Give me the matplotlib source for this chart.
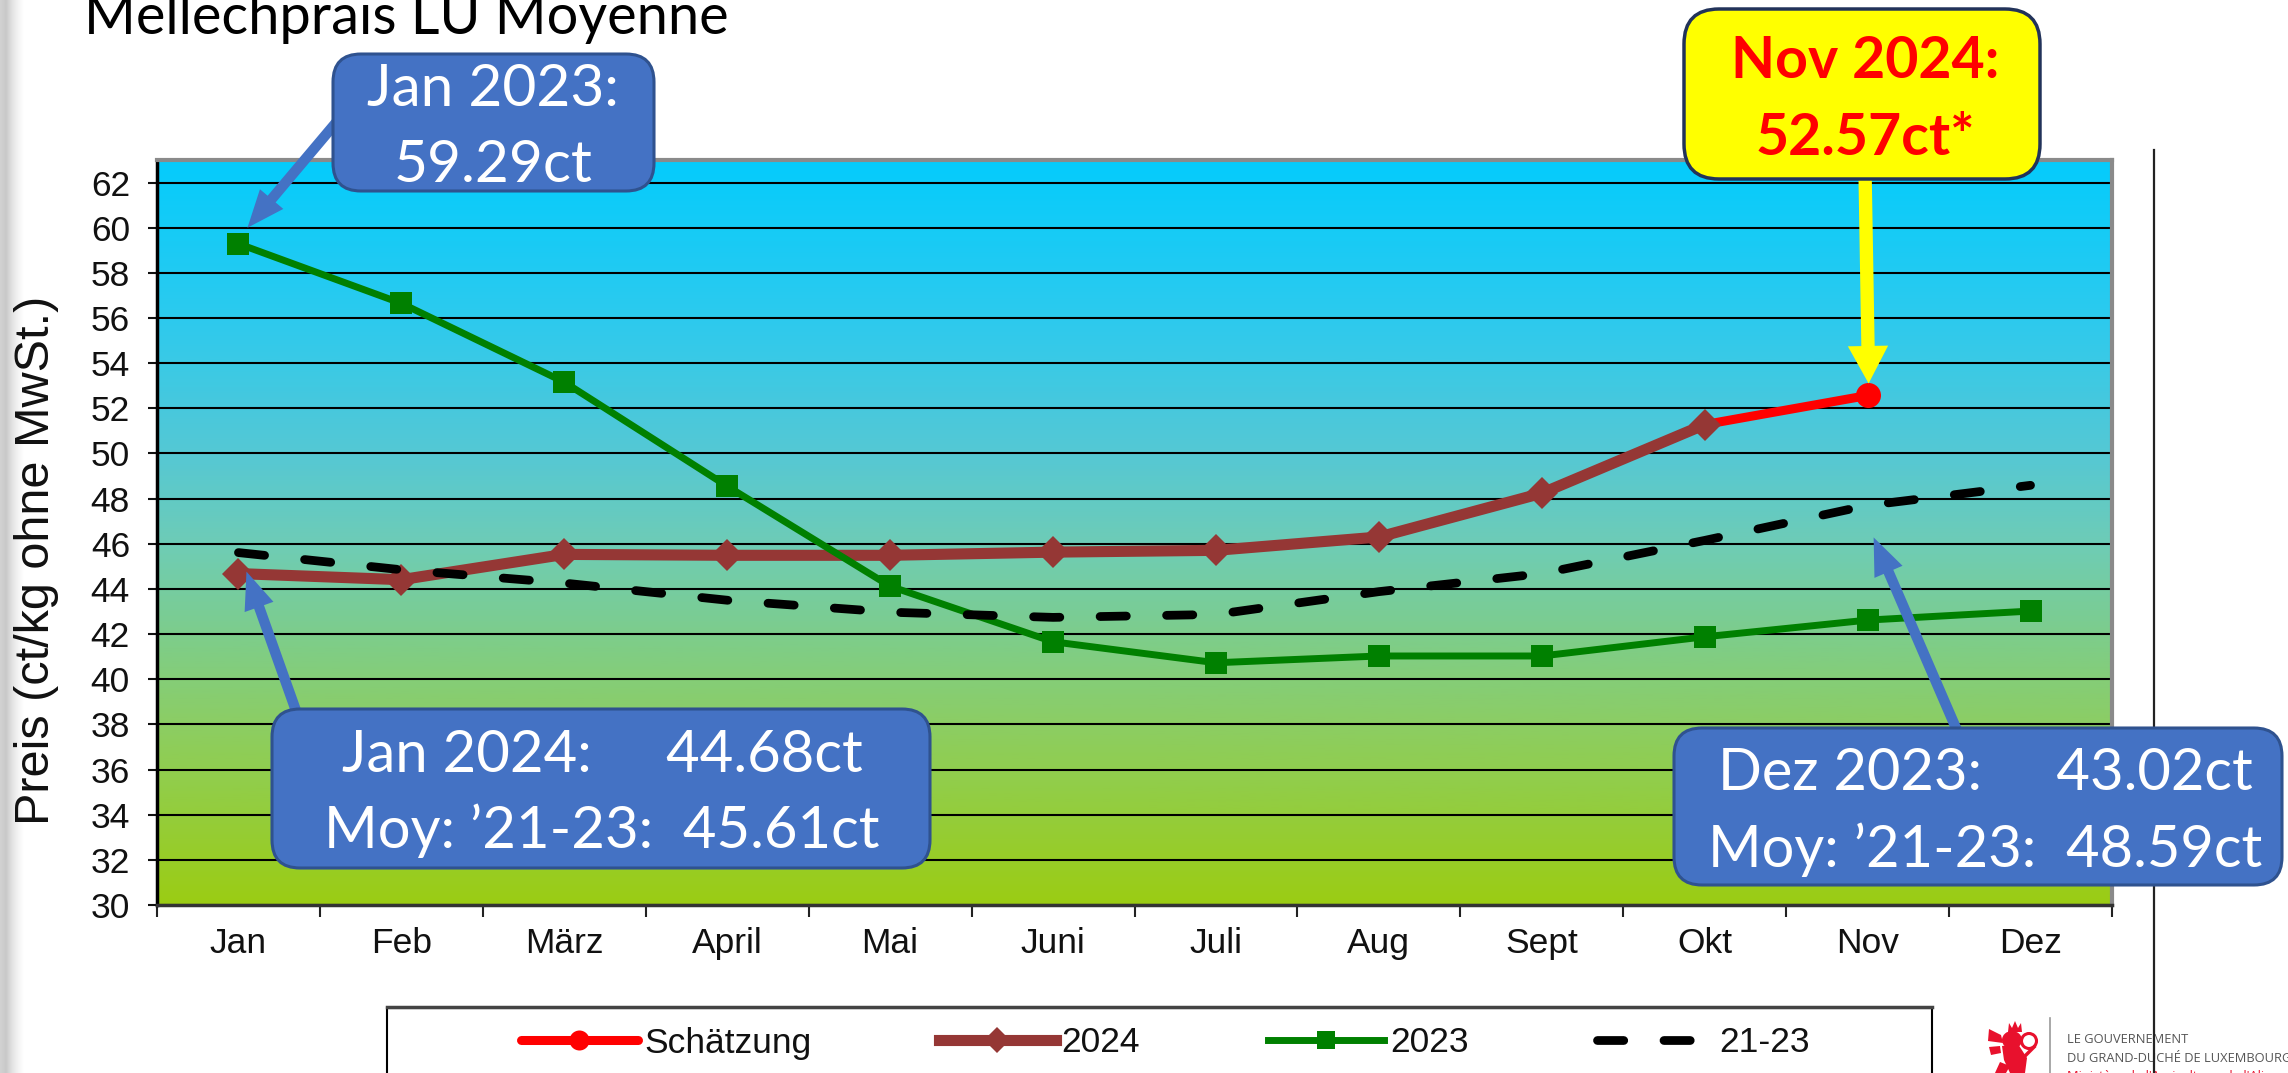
import numpy as np
import matplotlib
matplotlib.use("Agg")
import matplotlib.pyplot as plt
from matplotlib.colors import LinearSegmentedColormap
from matplotlib.patches import FancyBboxPatch, Rectangle, Polygon, Ellipse, Circle
from matplotlib.lines import Line2D
from matplotlib.transforms import ScaledTranslation

# ---------------- data ----------------
months = ['Jan', 'Feb', 'März', 'April', 'Mai', 'Juni', 'Juli', 'Aug', 'Sept', 'Okt', 'Nov', 'Dez']
y2023 = [59.29, 56.65, 53.16, 48.55, 44.12, 41.66, 40.73, 41.03, 41.03, 41.88, 42.62, 43.02]
y2024 = [44.68, 44.41, 45.53, 45.49, 45.49, 45.63, 45.71, 46.30, 48.24, 51.28]   # Jan - Okt
schaetzung_months = ['Okt', 'Nov']
schaetzung = [51.28, 52.57]
avg2123 = [45.61, 44.85, 44.26, 43.50, 42.97, 42.74, 42.87, 43.88, 44.68, 46.15, 47.70, 48.59]
yticks = list(range(30, 63, 2))
legend_labels = ['Schätzung', '2024', '2023', '21-23']
title = 'Mellechprais LU Moyenne'
ylabel = 'Preis (ct/kg ohne MwSt.)'
note_jan23 = ['Jan 2023:', '59.29ct']
note_nov24 = ['Nov 2024:', '52.57ct*']
note_jan24 = [('Jan 2024:', '44.68ct'), 'Moy: \u201921-23:  45.61ct']
note_dez23 = [('Dez 2023:', '43.02ct'), 'Moy: \u201921-23:  48.59ct']
logo_lines = ['LE GOUVERNEMENT', 'DU GRAND-DUCHÉ DE LUXEMBOURG',
              "Ministère de l'Agriculture, de l'Alimentation et de la Viticulture"]

plt.rcParams['font.family'] = ['Liberation Sans', 'DejaVu Sans']

W, H = 2288, 1073
fig = plt.figure(figsize=(W / 100, H / 100), dpi=100)
fig.patch.set_facecolor('white')
IN = fig.dpi_scale_trans


def P(x, y):
    """image pixel (top-left origin) -> inches for dpi_scale_trans"""
    return (x / 100.0, (H - y) / 100.0)


# left slide-edge strip
sax = fig.add_axes([0, 0, 24 / W, 1], zorder=-3)
sax.imshow(np.linspace(0, 1, 50).reshape(1, -1), cmap=LinearSegmentedColormap.from_list(
    'g', ['#d2d2d2', '#c9c9c9', '#e2e2e2', '#f3f3f3', '#ffffff']), aspect='auto')
sax.axis('off')

ax = fig.add_axes([157 / W, 1 - 905 / H, (2112 - 157) / W, (905 - 160) / H])
ax.set_xlim(-0.5, 11.5)
ax.set_ylim(30, 63)

# gradient background
stops = [(30, (155, 204, 20)), (34, (148, 205, 60)), (38, (140, 205, 100)), (42, (125, 205, 140)),
         (46, (110, 204, 182)), (50, (85, 200, 212)), (56, (45, 202, 238)), (63, (5, 204, 252))]
cmap = LinearSegmentedColormap.from_list(
    'bg', [((v - 30) / 33.0, tuple(c / 255 for c in col)) for v, col in stops])
ax.imshow(np.linspace(0, 1, 400).reshape(-1, 1), extent=(-0.5, 11.5, 30, 63), origin='lower',
          aspect='auto', cmap=cmap, zorder=0)

x = np.arange(len(months))
idx = {m: i for i, m in enumerate(months)}
ax.plot([idx[m] for m in schaetzung_months], schaetzung, color='#ff0000', lw=6.5, marker='o', ms=18,
        markevery=[1], mew=0, zorder=3, label=legend_labels[0], solid_capstyle='round')
ax.plot(x[:len(y2024)], y2024, color='#953735', lw=8, marker='D', ms=16, mew=0, zorder=4,
        label=legend_labels[1])
ax.plot(x, y2023, color='#008000', lw=5, marker='s', ms=16.5, mew=0, zorder=5, label=legend_labels[2])
ax.plot(x, avg2123, color='black', lw=6.3, dashes=(3, 4.6), dash_capstyle='round', zorder=6,
        label=legend_labels[3])

ax.set_yticks(yticks)
ax.set_xticks(x)
ax.set_xticklabels(months)
ax.set_xticks(np.arange(-0.5, 12, 1), minor=True)
ax.tick_params(axis='x', which='major', length=0, pad=16, labelsize=25.5, labelcolor='#111111')
ax.tick_params(axis='x', which='minor', length=8.6, width=1.5, color='#222222', direction='out')
ax.tick_params(axis='y', length=6.5, width=1.5, direction='out', pad=13, labelsize=25.5,
               labelcolor='#111111', color='#111111')
ax.set_axisbelow(True)
ax.grid(axis='y', color='black', lw=1.5)
ax.grid(axis='x', visible=False)
ax.spines['left'].set_color('black')
ax.spines['left'].set_linewidth(2.5)
ax.spines['bottom'].set_color('#333333')
ax.spines['bottom'].set_linewidth(2.5)
for s in ('top', 'right'):
    ax.spines[s].set_color('#8a8a8a')
    ax.spines[s].set_linewidth(3)

ax.set_ylabel(ylabel, fontsize=35, color='#111111')
ax.yaxis.set_label_coords(-0.0500, 0.462)

renderer = fig.canvas.get_renderer()


def width_of(t):
    return t.get_window_extent(renderer).width


def fit(t, target):
    t.set_fontsize(t.get_fontsize() * target / width_of(t))
    t.set_fontsize(t.get_fontsize() * target / width_of(t))
    return t.get_fontsize()


# title
tt = fig.text(84 / W, 1 - 34 / H, title, family=['Lato', 'DejaVu Sans'], fontsize=40,
              ha='left', va='baseline', color='black')
fit(tt, 645)


def box(x0, y0, x1, y1, fc, ec, r, lw=2.2):
    p = FancyBboxPatch(P(x0, y1), (x1 - x0) / 100, (y1 - y0) / 100,
                       boxstyle=f'round,pad=0,rounding_size={r / 100}', transform=IN,
                       fc=fc, ec=ec, lw=lw, clip_on=False, zorder=9)
    ax.add_patch(p)


def arrow(start, month_i, val, dx, dy, color, tail, hw, hl):
    tr = ax.transData + ScaledTranslation(dx / 100, dy / 100, IN)
    ax.annotate('', xy=(month_i, val), xycoords=tr, xytext=P(*start), textcoords=IN,
                annotation_clip=False, zorder=8,
                arrowprops=dict(arrowstyle=f'simple,head_length={hl},head_width={hw},tail_width={tail}',
                                mutation_scale=1, fc=color, ec=color, lw=0, shrinkA=0, shrinkB=0))


def txt(xc, yb, s, fs=40, color='white', weight='normal'):
    return ax.text(*P(xc, yb), s, transform=IN, ha='center', va='baseline', fontsize=fs,
                   color=color, fontweight=weight, family=['Lato', 'DejaVu Sans'], zorder=10,
                   clip_on=False)


BLUE, BLUE_E = '#4472C4', '#2F528F'

# Jan 2023
arrow((345, 112), 0, y2023[0], 9, 16, BLUE, 7.5, 22, 27)
box(333, 54, 654, 191, BLUE, BLUE_E, 28)
t1 = txt(493, 106, note_jan23[0])
fs = fit(t1, 252)
txt(493, 182, note_jan23[1], fs)

# Nov 2024 (estimate)
arrow((1865, 170), idx['Nov'], schaetzung[1], 1, 12, '#ffff00', 9.6, 29, 27)
box(1684, 9, 2040, 179, '#ffff00', '#22335a', 35, lw=2.5)
t1 = txt(1865, 78, note_nov24[0], color='#ff0000', weight='bold')
fs = fit(t1, 268)
txt(1865, 155, note_nov24[1], fs, color='#ff0000', weight='bold')


def two_line(xc, yb1, yb2, line1, line2, w1, w2):
    t2 = txt(xc, yb2, line2)
    fs = fit(t2, w2)
    best, bestd = None, 1e9
    for k in range(1, 16):
        s = line1[0] + ' ' * k + line1[1]
        tmp = txt(xc, yb1, s, fs)
        d = abs(width_of(tmp) - w1)
        tmp.remove()
        if d < bestd:
            best, bestd = s, d
    txt(xc, yb1, best, fs)


# Jan 2024
arrow((300, 722), 0, y2024[0], 8, 2, BLUE, 7.5, 22, 27)
box(272, 709, 930, 868, BLUE, BLUE_E, 28)
two_line(602, 772, 848, note_jan24[0], note_jan24[1], 526, 555)

# Dez 2023 / 21-23 average
arrow((1962, 742), idx['Nov'], avg2123[idx['Nov']], 6, -32, BLUE, 7.5, 22, 27)
box(1674, 728, 2282, 885, BLUE, BLUE_E, 28)
two_line(1985, 790, 867, note_dez23[0], note_dez23[1], 532, 554)

# legend
handles, labels = ax.get_legend_handles_labels()
fig.legend(handles, labels, loc='center left', bbox_to_anchor=(521 / W, 1 - 1043 / H), ncol=4,
           frameon=False, fontsize=25.5, handlelength=3.3, handletextpad=0.17, columnspacing=3.6,
           borderpad=0, borderaxespad=0, markerscale=0.8, labelcolor='#111111')
fig.add_artist(Rectangle(P(387, 1090), 1545 / 100, (1090 - 1008) / 100, transform=IN, fill=False,
                         ec='black', lw=1.5))
fig.add_artist(Line2D([387 / 100, 1932 / 100], [(H - 1007) / 100] * 2, transform=IN,
                      color='#444444', lw=2.5))

# separator line on the right
fig.add_artist(Line2D([2154 / 100] * 2, [(H - 150) / 100, 0], transform=IN, color='#222222',
                      lw=1.6, zorder=-1))

# logo
RED = '#e8112d'
lion = [
    Polygon([P(2008, 1032), P(2009, 1023), P(2012, 1028), P(2015, 1021), P(2018, 1028),
             P(2021, 1023), P(2022, 1032)]),
    Ellipse(P(2012, 1040), 0.2, 0.18),
    Polygon([P(1989, 1029), P(2001, 1035), P(2003, 1043), P(1988, 1041)]),
    Polygon([P(1989, 1047), P(2000, 1046), P(2001, 1053), P(1991, 1055)]),
    Polygon([P(2002, 1046), P(2018, 1044), P(2027, 1058), P(2025, 1073), P(2010, 1073), P(2004, 1060)]),
    Polygon([P(2000, 1062), P(2010, 1066), P(2006, 1073), P(1995, 1073)]),
]
for pch in lion:
    pch.set_transform(IN)
    pch.set_facecolor(RED)
    pch.set_edgecolor('none')
    pch.set_zorder(-2)
    fig.add_artist(pch)
ring = Circle(P(2029, 1041), 0.075, transform=IN, fill=False, ec=RED, lw=2.2, zorder=-2)
fig.add_artist(ring)
fig.add_artist(Line2D([2024 / 100, 2034 / 100], [(H - 1057) / 100, (H - 1047) / 100], transform=IN,
                      color=RED, lw=2.5, zorder=-2))
fig.add_artist(Line2D([2050 / 100] * 2, [(H - 1018) / 100, 0], transform=IN, color='#9a9a9a',
                      lw=1.2, zorder=-2))
lt = fig.text(2067 / W, 1 - 1043 / H, logo_lines[0], family=['Open Sans', 'DejaVu Sans'], fontsize=9,
              color='#555555', ha='left', va='baseline', zorder=-2)
lfs = fit(lt, 121)
fig.text(2067 / W, 1 - 1062 / H, logo_lines[1], family=['Open Sans', 'DejaVu Sans'], fontsize=lfs,
         color='#555555', ha='left', va='baseline', zorder=-2)
fig.text(2067 / W, 1 - 1080 / H, logo_lines[2], family=['Open Sans', 'DejaVu Sans'], fontsize=lfs,
         color=RED, ha='left', va='baseline', zorder=-2)

fig.savefig('out.png', dpi=100)
